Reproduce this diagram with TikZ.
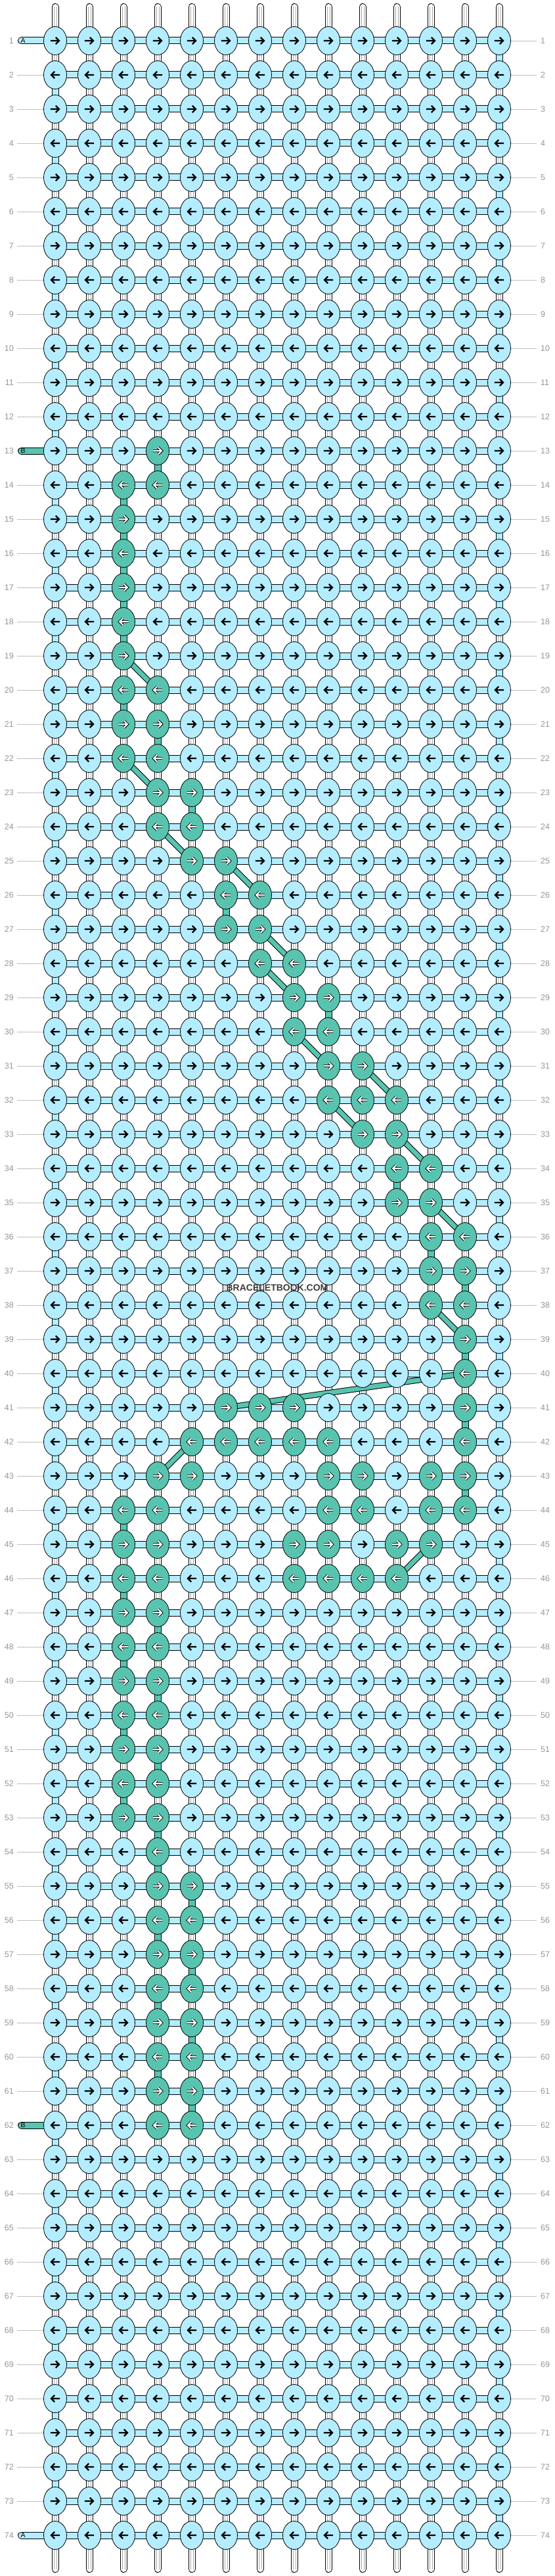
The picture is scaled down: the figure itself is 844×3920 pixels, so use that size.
\documentclass[tikz,border=0pt]{standalone}
\usepackage{fontspec}
\setmainfont{Liberation Sans}
\usetikzlibrary{shapes.geometric}
\definecolor{lb}{RGB}{180,237,255}
\definecolor{gr}{RGB}{88,196,176}
\definecolor{labc}{RGB}{150,150,150}
\definecolor{linec}{RGB}{190,190,190}
\definecolor{thr}{RGB}{170,170,170}
\definecolor{wm}{RGB}{60,60,60}
\pgfdeclarelayer{bg}
\pgfdeclarelayer{mid}
\pgfsetlayers{bg,mid,main}
\newcommand\mkg[2]{\expandafter\gdef\csname g#1-#2\endcsname{}}
\newcommand\mkv[2]{\expandafter\gdef\csname v#1-#2\endcsname{}}
\tikzset{
 knot/.style={ellipse, draw=black, line width=0.8pt, minimum width=35pt, minimum height=43pt, inner sep=0pt},
 hbar/.style={draw=black, line width=1pt, double distance=9pt},
 barb/.style={hbar, double=lb},
 barg/.style={hbar, double=gr},
 barw/.style={hbar, double=white},
 thrd/.style={draw=thr, line width=0.6pt},
 diag/.style={draw=black, line width=1pt, double=gr, double distance=7pt},
 tailo/.style={draw=black, line width=11pt, line cap=round},
 taili/.style={line width=9pt, line cap=round},
 arr/.style={line width=2.3pt, line join=miter},
 labl/.style={text=labc, inner sep=0pt, font=\fontsize{12.5}{13}\selectfont},
 taillab/.style={text=black, inner sep=0pt, font=\fontsize{10.5}{11}\selectfont},
 lline/.style={draw=linec, line width=0.8pt},
}
\begin{document}
\begin{tikzpicture}[x=1pt,y=-1pt]
\useasboundingbox (0,0) rectangle (844,3920);
\begin{pgfonlayer}{bg}
\fill[white] (0,0) rectangle (844,3920);
\end{pgfonlayer}
% green knots
\foreach \r/\cs in {13/{4},14/{3,4},15/{3},16/{3},17/{3},18/{3},19/{3},20/{3,4},21/{3,4},22/{3,4},23/{4,5},24/{4,5},25/{5,6},26/{6,7},27/{6,7},28/{7,8},29/{8,9},30/{8,9},31/{9,10},32/{9,10,11},33/{10,11},34/{11,12},35/{11,12},36/{12,13},37/{12,13},38/{12,13},39/{13},40/{13},41/{6,7,8,13},42/{5,6,7,8,9,13},43/{4,5,9,10,12,13},44/{3,4,9,10,12,13},45/{3,4,8,9,11,12},46/{3,4,8,9,10,11},47/{3,4},48/{3,4},49/{3,4},50/{3,4},51/{3,4},52/{3,4},53/{3,4},54/{4},55/{4,5},56/{4,5},57/{4,5},58/{4,5},59/{4,5},60/{4,5},61/{4,5},62/{4,5}}{\foreach \c in \cs {\mkg{\r}{\c}}}
% green vertical links
\foreach \r/\c in {13/4,14/3,15/3,16/3,17/3,18/3,20/3,21/4,23/5,26/6,29/9,34/11,36/12,37/13,39/13,41/13,43/13,44/3,46/3,47/4,48/3,49/4,50/3,51/4,52/3,53/4,54/4,55/5,56/4,57/5,58/4,59/5,60/4,61/5}{\mkv{\r}{\c}}

% knots
\foreach \r in {1,...,74}{
  \ifodd\r\relax \def\d{1}\else \def\d{-1}\fi
  \foreach \c in {1,...,14}{
    \ifcsname g\r-\c\endcsname
      \node[knot, fill=gr] (k-\r-\c) at ({32+52*\c},{10+52*\r}) {};
      \begin{scope}[shift={(k-\r-\c.center)}, xscale=\d]
        \draw[arr, black, line width=3.9pt] (-7.2,0) -- (5,0) (0.8,-5.2) -- (6,0) -- (0.8,5.2);
        \draw[arr, white, line width=2.1pt] (-7.2,0) -- (5,0) (0.8,-5.2) -- (6,0) -- (0.8,5.2);
      \end{scope}
    \else
      \node[knot, fill=lb] (k-\r-\c) at ({32+52*\c},{10+52*\r}) {};
      \begin{scope}[shift={(k-\r-\c.center)}, xscale=\d]
        \draw[arr, black] (-7.2,0) -- (5,0) (0.8,-5.2) -- (6,0) -- (0.8,5.2);
      \end{scope}
    \fi
  }
}

\begin{pgfonlayer}{bg}
% vertical links
\foreach \r in {1,...,73}{
  \pgfmathtruncatemacro\rn{\r+1}
  \foreach \c in {1,...,14}{
    \def\vt{w}
    \ifodd\r\relax \ifnum\c=14\relax \def\vt{b}\fi \else \ifnum\c=1\relax \def\vt{b}\fi \fi
    \ifcsname v\r-\c\endcsname \def\vt{g}\fi
    \if\vt w
      \draw[barw] (k-\r-\c.center) -- (k-\rn-\c.center);
      \draw[thrd] ([xshift=-1.8pt]k-\r-\c.center) -- ([xshift=-1.8pt]k-\rn-\c.center);
      \draw[thrd] ([xshift=1.8pt]k-\r-\c.center) -- ([xshift=1.8pt]k-\rn-\c.center);
    \fi
    \if\vt b \draw[barb] (k-\r-\c.center) -- (k-\rn-\c.center); \fi
    \if\vt g \draw[barg] (k-\r-\c.center) -- (k-\rn-\c.center); \fi
  }
}
% horizontal links
\foreach \r in {1,...,74}{
  \foreach \c in {1,...,13}{
    \pgfmathtruncatemacro\cn{\c+1}
    \draw[barb] (k-\r-\c.center) -- (k-\r-\cn.center);
  }
}
% top and bottom tails
\foreach \c in {1,...,14}{
  \coordinate (tt-\c) at ({32+52*\c},10.5);
  \coordinate (bt-\c) at ({32+52*\c},3909.5);
  \draw[tailo] (tt-\c) -- (k-1-\c.center);
  \draw[taili, white] (tt-\c) -- (k-1-\c.center);
  \draw[thrd] ([xshift=-1.8pt]tt-\c) -- ([xshift=-1.8pt]k-1-\c.center);
  \draw[thrd] ([xshift=1.8pt]tt-\c) -- ([xshift=1.8pt]k-1-\c.center);
  \draw[tailo] (bt-\c) -- (k-74-\c.center);
  \draw[taili, white] (bt-\c) -- (k-74-\c.center);
  \draw[thrd] ([xshift=-1.8pt]bt-\c) -- ([xshift=-1.8pt]k-74-\c.center);
  \draw[thrd] ([xshift=1.8pt]bt-\c) -- ([xshift=1.8pt]k-74-\c.center);
}
% side tails of working strings
\foreach \r/\col in {1/lb,13/gr,62/gr,74/lb}{
  \coordinate (lt-\r) at (32.5,{10+52*\r});
  \draw[tailo] (lt-\r) -- (k-\r-1.center);
  \draw[taili, \col] (lt-\r) -- (k-\r-1.center);
}
\end{pgfonlayer}

\begin{pgfonlayer}{mid}
\foreach \ra/\ca/\rb/\cb in {19/3/20/4,22/3/23/4,24/4/25/5,25/6/26/7,27/7/28/8,28/7/29/8,30/8/31/9,31/10/32/11,32/9/33/10,33/11/34/12,35/12/36/13,38/12/39/13,40/13/41/6,42/5/43/4,45/12/46/11}{
  \draw[diag] (k-\ra-\ca.center) -- (k-\rb-\cb.center);
}
\end{pgfonlayer}

% tail letters
\node[taillab, anchor=west] (la-1) at (31.5,62) {A};
\node[taillab, anchor=west] (la-74) at (31.5,3858) {A};
\node[taillab, anchor=west] (lb-13) at (31.5,686) {B};
\node[taillab, anchor=west] (lb-62) at (31.5,3234) {B};

% row numbers and guide lines
\foreach \r in {1,...,74}{
  \node[labl, anchor=east] (nl-\r) at (21,{10+52*\r}) {\r};
  \node[labl, anchor=west] (nr-\r) at (823,{10+52*\r}) {\r};
  \coordinate (rl-\r) at (817,{10+52*\r});
  \draw[lline] (k-\r-14.east) -- (rl-\r);
}
\foreach \r in {2,...,12,14,15,...,61,63,64,...,73}{
  \coordinate (ll-\r) at (26,{10+52*\r});
  \draw[lline] (ll-\r) -- (k-\r-1.west);
}

% watermark
\node[text=wm, inner sep=0pt, font=\fontsize{14}{14}\selectfont\bfseries] (wmark) at (422,1960) {BRACELETBOOK.COM};
\end{tikzpicture}
\end{document}
